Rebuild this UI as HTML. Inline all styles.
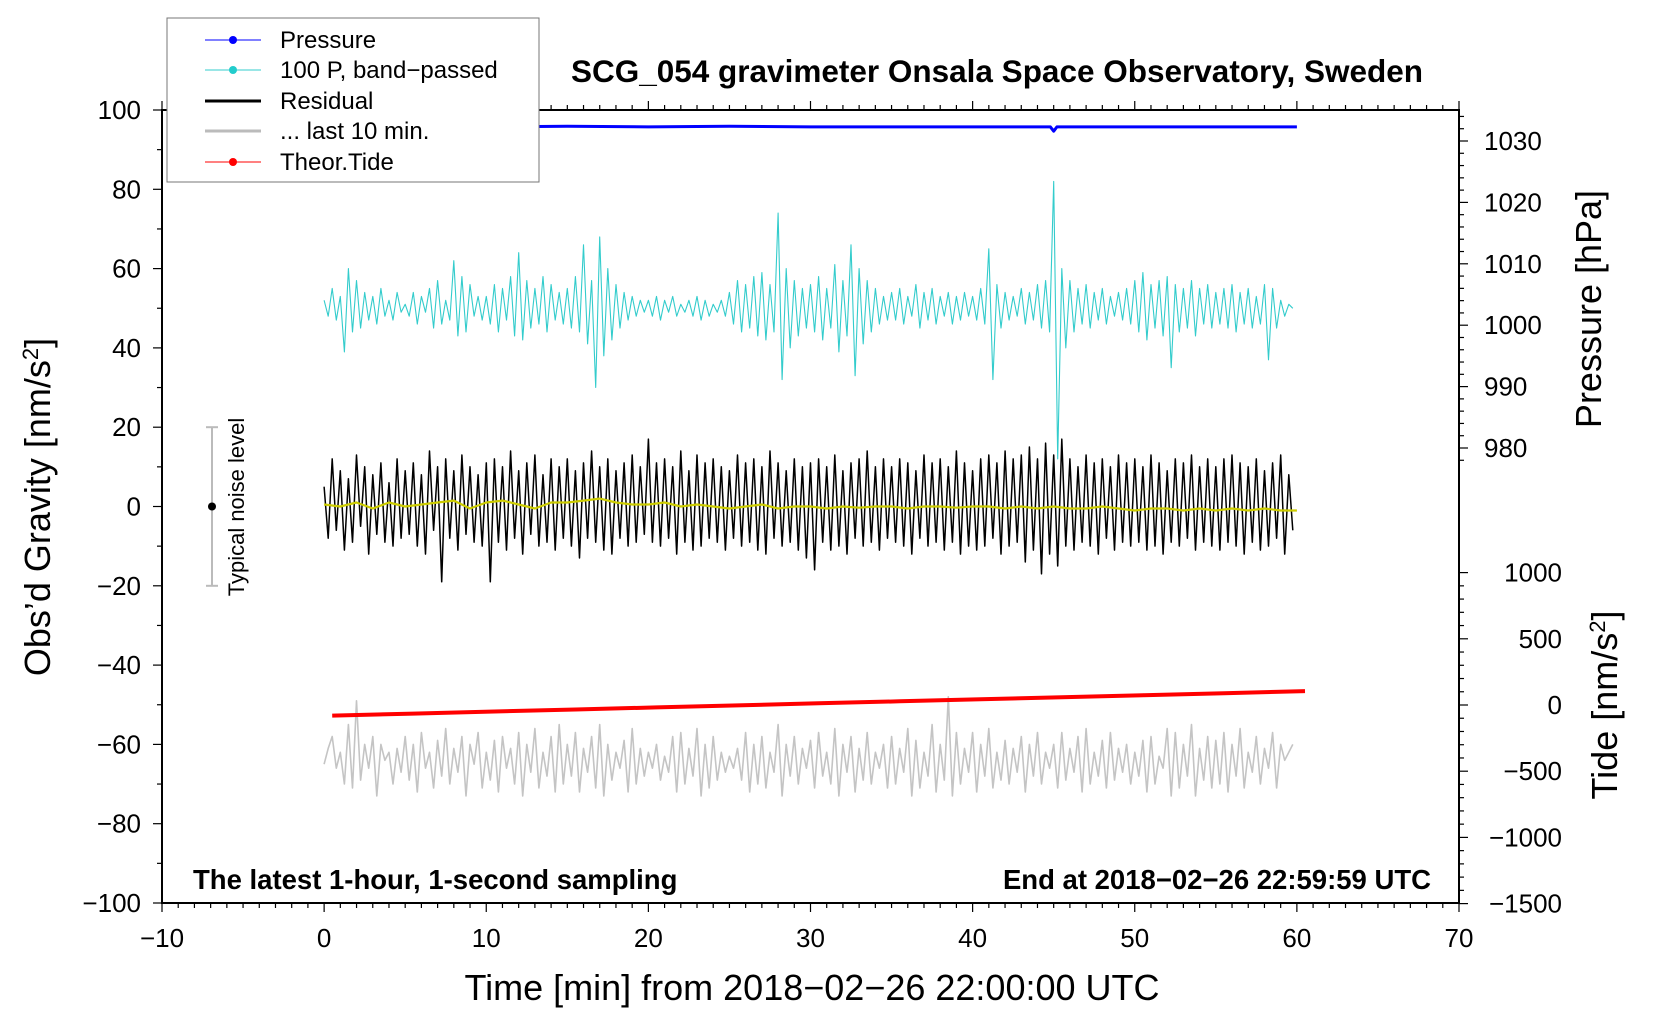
<!DOCTYPE html>
<html><head><meta charset="utf-8"><style>
html,body{margin:0;padding:0;background:#fff;}
svg{display:block;font-family:"Liberation Sans",sans-serif;}
</style></head><body>
<svg id="chart" width="1660" height="1020" viewBox="0 0 1660 1020">
<g id="axes"></g>
<g id="series"></g>
<g id="annot">
<text x="997" y="82" text-anchor="middle" font-size="31.5" font-weight="bold">SCG_054 gravimeter Onsala Space Observatory, Sweden</text>
<text x="193" y="889" font-size="27.5" font-weight="bold">The latest 1-hour, 1-second sampling</text>
<text x="1431" y="889" text-anchor="end" font-size="27.5" font-weight="bold">End at 2018−02−26 22:59:59 UTC</text>
<text transform="translate(50,507) rotate(-90)" text-anchor="middle" font-size="36">Obs’d Gravity [nm/s<tspan baseline-shift="super" font-size="22">2</tspan>]</text>
<text transform="translate(1601,309) rotate(-90)" text-anchor="middle" font-size="36">Pressure [hPa]</text>
<text transform="translate(1617,705) rotate(-90)" text-anchor="middle" font-size="36">Tide [nm/s<tspan baseline-shift="super" font-size="22">2</tspan>]</text>
<text x="812" y="1000" text-anchor="middle" font-size="36">Time [min] from 2018−02−26 22:00:00 UTC</text>
<text transform="translate(244,507) rotate(-90)" text-anchor="middle" font-size="22">Typical noise level</text>
</g>
<g id="legend">
<rect x="167" y="18" width="372" height="164" fill="#fff" stroke="#777" stroke-width="1"/>
<g><line x1="205" y1="40" x2="261" y2="40" stroke="#00f" stroke-width="1"/><circle cx="233" cy="40" r="4" fill="#00f"/><text x="280" y="48" font-size="24">Pressure</text></g>
<g><line x1="205" y1="70" x2="261" y2="70" stroke="#3cc" stroke-width="1"/><circle cx="233" cy="70" r="4" fill="#2cc"/><text x="280" y="78" font-size="24">100 P, band−passed</text></g>
<g><line x1="205" y1="101" x2="261" y2="101" stroke="#000" stroke-width="3"/><text x="280" y="109" font-size="24">Residual</text></g>
<g><line x1="205" y1="131" x2="261" y2="131" stroke="#bbb" stroke-width="3"/><text x="280" y="139" font-size="24">... last 10 min.</text></g>
<g><line x1="205" y1="162" x2="261" y2="162" stroke="#f00" stroke-width="1"/><circle cx="233" cy="162" r="4" fill="#f00"/><text x="280" y="170" font-size="24">Theor.Tide</text></g>
</g>
</svg>
<script>
const cyanVals=[52,48,55,47,53,39,60,44,57,45,54,47,53,46,55,48,52,47,54,49,
51,48,54,46,53,49,55,45,57,46,52,47,62,43,58,44,56,48,53,47,
53,46,56,44,55,47,58,43,64,42,57,45,55,46,58,44,56,47,54,46,
55,45,58,44,66,41,57,30,68,38,60,42,56,45,54,47,53,48,52,49,
52,48,53,47,52,49,53,48,51,49,52,48,53,47,52,48,51,49,52,48,
54,46,57,44,56,45,58,43,59,42,56,44,74,32,60,40,57,43,55,45,
56,44,58,42,55,45,61,39,57,43,66,33,60,41,57,44,55,46,53,47,
54,47,55,46,53,48,56,45,54,47,55,46,53,48,54,46,53,47,54,48,
53,47,55,46,65,32,56,45,54,47,53,48,55,46,54,47,56,45,57,44,
82,12,60,40,57,44,55,46,56,45,54,47,55,46,53,48,54,47,55,46,
57,44,59,42,56,45,57,43,58,35,56,44,55,45,57,43,55,46,56,45,
54,46,55,45,56,44,54,46,55,45,53,46,56,37,55,45,52,48,51,50];
const residualVals=[5,-8,12,-6,9,-11,7,-9,13,-5,10,-12,8,-7,11,-9,6,-10,12,-8,
9,-7,11,-10,8,-12,14,-6,10,-19,12,-8,9,-11,13,-7,10,-9,8,-10,
11,-19,12,-9,10,-11,14,-8,9,-12,11,-7,13,-10,8,-9,12,-11,10,-8,
12,-10,9,-13,11,-8,14,-9,10,-11,12,-12,9,-8,11,-10,13,-9,10,-7,
17,-9,11,-10,12,-8,10,-12,14,-9,9,-11,13,-10,11,-8,12,-9,10,-11,
9,-8,13,-10,11,-9,12,-11,10,-12,14,-8,11,-10,9,-9,12,-11,10,-13,
11,-16,12,-9,10,-11,13,-10,9,-12,11,-8,12,-10,14,-9,10,-11,12,-8,
10,-9,12,-10,11,-12,9,-8,13,-10,11,-9,12,-11,10,-9,14,-12,11,-10,
9,-11,12,-10,13,-8,11,-12,14,-10,12,-9,13,-14,15,-11,12,-17,16,-12,
13,-15,17,-10,12,-11,10,-9,13,-10,11,-12,12,-8,10,-11,13,-9,11,-10,
12,-9,10,-11,13,-10,11,-12,9,-9,12,-10,11,-8,13,-11,10,-9,12,-10,
10,-11,12,-9,13,-10,11,-12,10,-9,12,-11,9,-10,11,-8,13,-12,8,-6];
const smoothVals=[0.5,0,1,-0.5,1,0,0.5,1,1.5,-0.5,1,1.5,0.5,-0.5,1,1,1.5,2,1,0.5,0.5,1,0,0.5,0,-0.5,0,0.5,-0.5,0,0,-0.5,0,-0.3,0,0,-0.5,0,0,-0.3,0,0,-0.5,0,-0.5,0,-0.5,-0.5,0,-0.5,-1,-0.5,-0.5,-1,-0.5,-1,-0.5,-1,-0.5,-1,-1];
const grayVals=[-65,-61,-58,-66,-62,-70,-55,-71,-49,-69,-60,-66,-58,-73,-60,-64,-62,-70,-61,-67,
-58,-69,-60,-72,-57,-66,-62,-71,-59,-68,-56,-70,-61,-67,-58,-73,-60,-65,-57,-71,
-62,-69,-59,-72,-58,-66,-61,-70,-57,-73,-60,-67,-56,-71,-62,-68,-58,-72,-55,-70,
-60,-68,-57,-72,-61,-67,-58,-71,-55,-73,-60,-69,-62,-66,-59,-72,-56,-70,-61,-68,
-62,-66,-60,-69,-63,-67,-58,-72,-57,-70,-61,-68,-56,-73,-60,-71,-58,-69,-62,-67,
-63,-66,-61,-69,-57,-72,-60,-70,-58,-71,-62,-67,-55,-73,-60,-68,-58,-70,-61,-66,
-59,-71,-57,-68,-62,-70,-56,-73,-60,-67,-58,-72,-61,-69,-57,-70,-62,-66,-60,-71,
-58,-70,-61,-67,-56,-73,-59,-71,-62,-68,-55,-72,-60,-69,-48,-73,-57,-70,-61,-67,
-57,-72,-60,-68,-56,-71,-62,-69,-59,-70,-61,-67,-58,-72,-60,-68,-57,-70,-62,-66,
-60,-71,-57,-69,-61,-67,-58,-72,-56,-70,-62,-68,-59,-71,-57,-69,-61,-67,-60,-70,
-62,-68,-59,-72,-58,-70,-63,-66,-56,-73,-57,-71,-60,-68,-55,-73,-61,-69,-58,-71,
-59,-70,-57,-72,-60,-68,-56,-71,-62,-67,-58,-70,-61,-66,-57,-71,-60,-64,-62,-60];
const pressureT=[0,5,10,15,20,25,30,35,40,44.8,45,45.2,50,55,60];
const pressureVals=[1032.4,1032.3,1032.3,1032.4,1032.3,1032.4,1032.3,1032.3,1032.3,1032.3,1031.6,1032.3,1032.3,1032.3,1032.3];
const tideT=[0.5,5.5,10.5,15.5,20.5,25.5,30.5,35.5,40.5,45.5,50.5,55.5,60.5];
const tideVals=[-80,-65,-49,-34,-18,-3,13,28,43,59,74,89,105];
const xTicks=[-10,0,10,20,30,40,50,60,70];
const yTicks=[-100,-80,-60,-40,-20,0,20,40,60,80,100];
const pTicks=[980,990,1000,1010,1020,1030];
const tTicks=[-1500,-1000,-500,0,500,1000];

const NS='http://www.w3.org/2000/svg';
const X0=162,X1=1459,Y0=110,Y1=903;
const xs=t=>X0+(t+10)/80*(X1-X0);
const ys=v=>Y1-(v+100)/200*(Y1-Y0);
const ps=p=>141-(p-1030)*6.14;
const ts=v=>705-v*66.2/500;
const axes=document.getElementById('axes'),series=document.getElementById('series');
function mk(tag,attrs,parent){const e=document.createElementNS(NS,tag);for(const k in attrs)e.setAttribute(k,attrs[k]);parent.appendChild(e);return e;}
function line(x1,y1,x2,y2,w,parent){return mk('line',{x1:x1,y1:y1,x2:x2,y2:y2,stroke:'#000','stroke-width':w},parent);}
let fr=mk('rect',{x:X0,y:Y0,width:X1-X0,height:Y1-Y0,fill:'none',stroke:'#000','stroke-width':2},axes);


for(let t=-10;t<=70;t++){const major=t%10===0;const L=major?9:5;line(xs(t),Y1,xs(t),Y1+L,1.2,axes);line(xs(t),Y0,xs(t),Y0-L,1.2,axes);}
xTicks.forEach(t=>{const e=mk('text',{x:xs(t),y:947,'text-anchor':'middle','font-size':26},axes);e.textContent=String(t).replace('-','−');

});
for(let v=-100;v<=100;v+=10){const L=v%20===0?9:5;line(X0,ys(v),X0-L,ys(v),1.2,axes);}
yTicks.forEach(v=>{const e=mk('text',{x:X0-21,y:ys(v)+9,'text-anchor':'end','font-size':26},axes);e.textContent=String(v).replace('-','−');

});
for(let p=978;p<=1034;p+=2){const L=p%10===0?9:5;line(X1,ps(p),X1+L,ps(p),1.2,axes);}
pTicks.forEach(p=>{const e=mk('text',{x:1484,y:ps(p)+9,'font-size':26},axes);e.textContent=p;

});
for(let v=-1500;v<=1000;v+=100){const L=v%500===0?9:5;line(X1,ts(v),X1+L,ts(v),1.2,axes);}
tTicks.forEach(v=>{const e=mk('text',{x:1562,y:ts(v)+9,'text-anchor':'end','font-size':26},axes);e.textContent=String(v).replace('-','−');

});
function poly(pts,color,w,name){const e=mk('polyline',{points:pts.map(p=>p[0].toFixed(1)+','+p[1].toFixed(1)).join(' '),fill:'none',stroke:color,'stroke-width':w,'stroke-linejoin':'round'},series);

return e;}
poly(grayVals.map((v,i)=>[xs(i*0.25),ys(v)]),'#c4c4c4',1.6,'last-10-min-line');
poly(tideT.map((t,i)=>[xs(t),ts(tideVals[i])]),'#f00',4,'theor-tide-line');
poly(residualVals.map((v,i)=>[xs(i*0.25),ys(v)]),'#000',1.5,'residual-line');
poly(smoothVals.map((v,i)=>[xs(i),ys(v)]),'#cc0',2.2,'residual-smoothed-line');
poly(cyanVals.map((v,i)=>[xs(i*0.25),ys(v)]),'#33cccc',1.1,'bandpassed-pressure-line');
poly(pressureT.map((t,i)=>[xs(t),ps(pressureVals[i])]),'#00f',3,'pressure-line');
const nb=mk('g',{},series);


mk('line',{x1:212,y1:ys(20),x2:212,y2:ys(-20),stroke:'#bbb','stroke-width':2},nb);
mk('line',{x1:206,y1:ys(20),x2:218,y2:ys(20),stroke:'#bbb','stroke-width':2},nb);
mk('line',{x1:206,y1:ys(-20),x2:218,y2:ys(-20),stroke:'#bbb','stroke-width':2},nb);
mk('circle',{cx:212,cy:ys(0),r:4,fill:'#000'},nb);
document.getElementById('chart').appendChild(document.getElementById('legend'));
</script>
</body></html>
